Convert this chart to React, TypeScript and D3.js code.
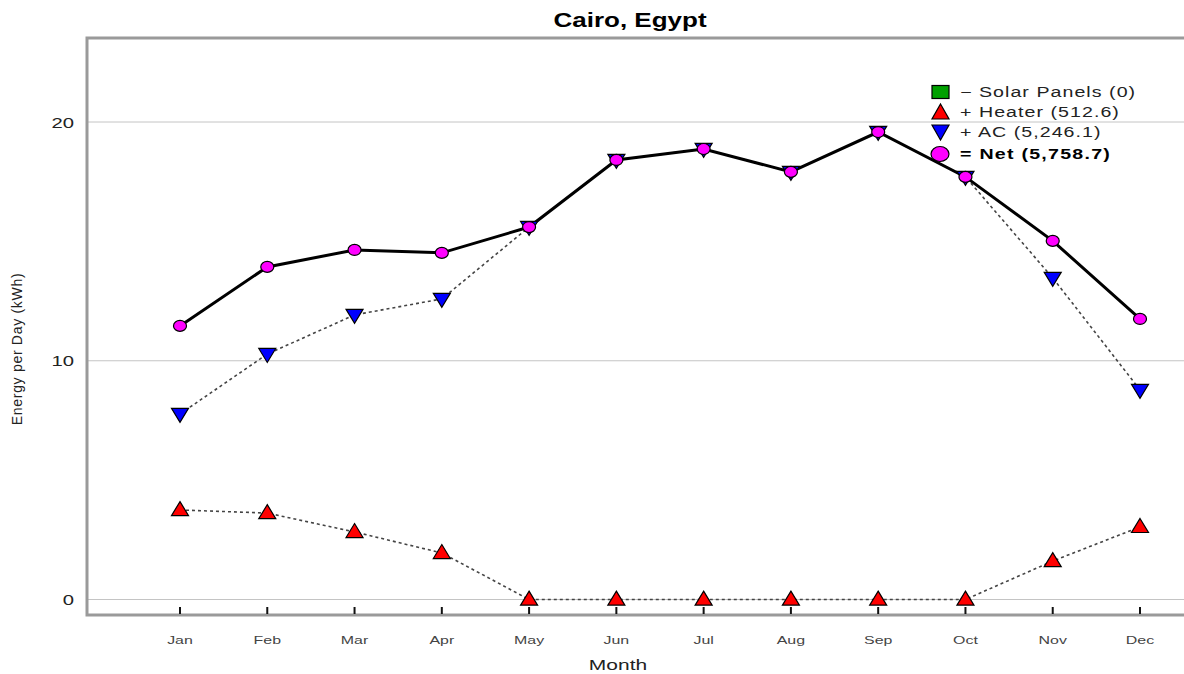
import { useRef, useEffect } from 'react';
import * as d3 from 'd3';

const months = ['Jan', 'Feb', 'Mar', 'Apr', 'May', 'Jun', 'Jul', 'Aug', 'Sep', 'Oct', 'Nov', 'Dec'];
const heater = [3.75, 3.62, 2.83, 1.95, 0, 0, 0, 0, 0, 0, 1.61, 3.04];
const ac = [7.77, 10.28, 11.92, 12.59, 15.6, 18.41, 18.87, 17.91, 19.58, 17.7, 13.47, 8.78];
const net = [11.46, 13.93, 14.64, 14.52, 15.6, 18.41, 18.87, 17.91, 19.58, 17.7, 15.02, 11.75];
const yTicks = [0, 10, 20];

const legendItems = [
  { shape: 'square', label: '\u2212 Solar Panels (0)', bold: false },
  { shape: 'up', label: '+ Heater (512.6)', bold: false },
  { shape: 'down', label: '+ AC (5,246.1)', bold: false },
  { shape: 'circle', label: '= Net (5,758.7)', bold: true },
];

const FONT = 'Liberation Sans, Arial, sans-serif';

const triUp = (cx: number, cy: number, w: number, h: number) =>
  `M${cx},${cy - h * 0.6}L${cx + w / 2},${cy + h * 0.4}L${cx - w / 2},${cy + h * 0.4}Z`;
const triDown = (cx: number, cy: number, w: number, h: number) =>
  `M${cx - w / 2},${cy - h * 0.4}L${cx + w / 2},${cy - h * 0.4}L${cx},${cy + h * 0.6}Z`;

type Sel = d3.Selection<SVGSVGElement | SVGGElement, unknown, null, undefined>;

// text that is stretched sideways, like the wide Java-style lettering of the source
function wideText(
  parent: Sel,
  x: number,
  y: number,
  str: string,
  opts: { size: number; anchor?: string; weight?: string; fill?: string; sx?: number; spacing?: number }
) {
  return parent
    .append('text')
    .attr('transform', `translate(${x},${y}) scale(${opts.sx ?? 1.35},1)`)
    .attr('text-anchor', opts.anchor ?? 'start')
    .attr('font-family', FONT)
    .attr('font-size', `${opts.size}px`)
    .attr('font-weight', opts.weight ?? 'normal')
    .attr('letter-spacing', `${opts.spacing ?? 0}px`)
    .attr('fill', opts.fill ?? '#222')
    .text(str);
}

export default function App() {
  const svgRef = useRef<SVGSVGElement>(null);

  useEffect(() => {
    if (!svgRef.current) return;
    const width = 1184;
    const height = 674;
    const frame = { left: 87, top: 38, bottom: 615 };

    const svg = d3.select(svgRef.current);
    svg.selectAll('*').remove();
    svg.attr('width', width).attr('height', height);
    const root = svg as unknown as Sel;

    const x = d3.scalePoint<string>().domain(months).range([180, 1140]);
    const y = d3.scaleLinear().domain([0, 20]).range([599.5, 122]);

    // Title
    wideText(root, 630, 27, 'Cairo, Egypt', { size: 20, anchor: 'middle', weight: 'bold', fill: '#000', sx: 1.3 });

    // Grid lines
    svg
      .append('g')
      .selectAll('line')
      .data(yTicks)
      .enter()
      .append('line')
      .attr('x1', frame.left)
      .attr('x2', width)
      .attr('y1', (d) => y(d))
      .attr('y2', (d) => y(d))
      .attr('stroke', '#c4c4c4')
      .attr('stroke-width', 1);

    // Frame
    svg
      .append('path')
      .attr('d', `M${width},${frame.top}H${frame.left}V${frame.bottom}H${width}`)
      .attr('fill', 'none')
      .attr('stroke', '#9a9a9a')
      .attr('stroke-width', 3);

    // Y tick labels
    yTicks.forEach((t) => {
      wideText(root, 74, y(t) + 5.5, String(t), { size: 15, anchor: 'end' });
    });

    // X ticks and labels
    svg
      .append('g')
      .selectAll('line')
      .data(months)
      .enter()
      .append('line')
      .attr('x1', (d) => x(d) || 0)
      .attr('x2', (d) => x(d) || 0)
      .attr('y1', frame.bottom - 1)
      .attr('y2', frame.bottom - 8)
      .attr('stroke', '#111')
      .attr('stroke-width', 2);
    months.forEach((m) => {
      wideText(root, x(m) || 0, 644, m, { size: 11, anchor: 'middle', fill: '#444', sx: 1.45 });
    });

    // Axis titles
    wideText(root, 618, 670, 'Month', { size: 15, anchor: 'middle', sx: 1.4 });
    svg
      .append('text')
      .attr('transform', 'translate(22,349) rotate(-90)')
      .attr('text-anchor', 'middle')
      .attr('font-family', FONT)
      .attr('font-size', '14px')
      .attr('letter-spacing', '0.7px')
      .attr('fill', '#222')
      .text('Energy per Day (kWh)');

    const line = d3
      .line<number>()
      .x((_, i) => x(months[i]) || 0)
      .y((d) => y(d));

    // Series lines
    svg
      .append('path')
      .attr('d', line(heater))
      .attr('fill', 'none')
      .attr('stroke', '#444')
      .attr('stroke-width', 1.6)
      .attr('stroke-dasharray', '3,3');
    svg
      .append('path')
      .attr('d', line(ac))
      .attr('fill', 'none')
      .attr('stroke', '#444')
      .attr('stroke-width', 1.6)
      .attr('stroke-dasharray', '3,3');
    svg
      .append('path')
      .attr('d', line(net))
      .attr('fill', 'none')
      .attr('stroke', '#000')
      .attr('stroke-width', 3);

    // Markers
    svg
      .append('g')
      .selectAll('path')
      .data(heater)
      .enter()
      .append('path')
      .attr('d', (d, i) => triUp(x(months[i]) || 0, y(d), 17, 14))
      .attr('fill', '#ff0000')
      .attr('stroke', '#000')
      .attr('stroke-width', 1.2);
    svg
      .append('g')
      .selectAll('path')
      .data(ac)
      .enter()
      .append('path')
      .attr('d', (d, i) => triDown(x(months[i]) || 0, y(d), 17, 14))
      .attr('fill', '#0000ff')
      .attr('stroke', '#000')
      .attr('stroke-width', 1.2);
    svg
      .append('g')
      .selectAll('ellipse')
      .data(net)
      .enter()
      .append('ellipse')
      .attr('cx', (_, i) => x(months[i]) || 0)
      .attr('cy', (d) => y(d))
      .attr('rx', 6.5)
      .attr('ry', 5.5)
      .attr('fill', '#ff00ff')
      .attr('stroke', '#000')
      .attr('stroke-width', 1.2);

    // Legend
    const lg = svg.append('g').attr('transform', 'translate(940,0)') as unknown as Sel;
    const rowY = [92, 112, 132, 154];
    legendItems.forEach((item, i) => {
      const cy = rowY[i];
      if (item.shape === 'square') {
        lg.append('rect')
          .attr('x', -8)
          .attr('y', cy - 6.5)
          .attr('width', 17)
          .attr('height', 13)
          .attr('fill', '#00a000')
          .attr('stroke', '#000')
          .attr('stroke-width', 1.2);
      } else if (item.shape === 'up') {
        lg.append('path')
          .attr('d', triUp(0.5, cy + 1, 17, 15))
          .attr('fill', '#ff0000')
          .attr('stroke', '#000')
          .attr('stroke-width', 1.2);
      } else if (item.shape === 'down') {
        lg.append('path')
          .attr('d', triDown(0.5, cy - 1, 17, 15))
          .attr('fill', '#0000ff')
          .attr('stroke', '#000')
          .attr('stroke-width', 1.2);
      } else {
        lg.append('ellipse')
          .attr('cx', 0)
          .attr('cy', cy)
          .attr('rx', 9)
          .attr('ry', 7.5)
          .attr('fill', '#ff00ff')
          .attr('stroke', '#000')
          .attr('stroke-width', 1.2);
      }
      wideText(lg, 20, cy + 5, item.label, {
        size: 14,
        weight: item.bold ? 'bold' : 'normal',
        fill: item.bold ? '#000' : '#222',
        sx: 1.4,
        spacing: item.bold ? 0.9 : 0.75,
      });
    });
  }, []);

  return (
    <div style={{ position: 'absolute', left: 0, top: 0, background: '#fff' }}>
      <svg ref={svgRef} style={{ display: 'block' }} />
    </div>
  );
}
